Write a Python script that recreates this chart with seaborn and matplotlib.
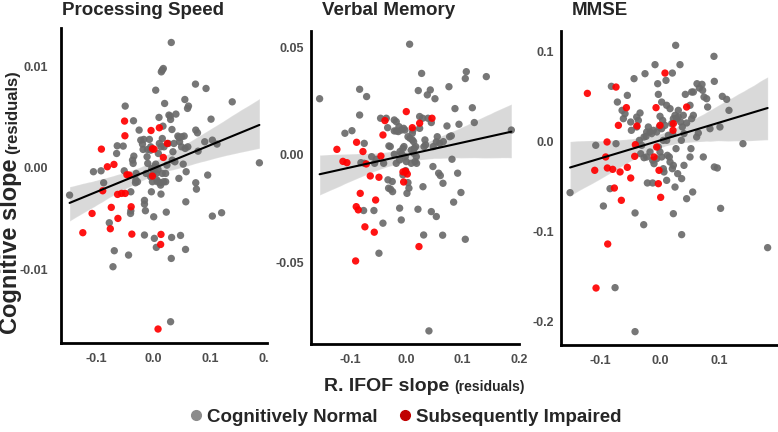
import numpy as np
import pandas as pd
import matplotlib
matplotlib.use("Agg")
import matplotlib.pyplot as plt
from matplotlib.lines import Line2D
from matplotlib.patches import Rectangle
import seaborn as sns

# ---------------- data ----------------
# Processing Speed
ps_norm_x = [-0.1475,-0.1055,-0.0921,-0.0875,-0.0776,-0.0688,-0.0711,-0.0647,-0.0636,-0.0531,-0.0496,-0.0513,-0.0350,-0.0437,-0.0397,-0.0397,-0.0402,-0.0344,-0.0367,-0.0356,-0.0315,-0.0303,-0.0309,-0.0280,-0.0222,-0.0181,-0.0169,-0.0157,-0.0157,-0.0140,-0.0157,-0.0128,-0.0111,-0.0099,-0.0105,-0.0070,-0.0047,-0.0047,-0.0047,-0.0035,-0.0017,-0.0006,0.0006,0.0017,0.0041,0.0041,0.0052,0.0064,0.0082,0.0087,0.0099,0.0105,0.0122,0.0128,0.0134,0.0140,0.0157,0.0175,0.0134,0.0157,0.0169,0.0181,0.0187,0.0198,0.0216,0.0227,0.0216,0.0239,0.0262,0.0274,0.0297,0.0303,0.0327,0.0332,0.0344,0.0362,0.0379,0.0397,0.0431,0.0449,0.0461,0.0496,0.0496,0.0542,0.0525,0.0554,0.0560,0.0577,0.0601,0.0618,0.0571,0.0606,0.0566,0.0449,0.0478,0.0303,0.0315,0.0321,0.0315,0.0741,0.0746,0.0776,0.0746,0.0758,0.0787,0.0904,0.0927,0.0956,0.1015,0.1038,0.1038,0.1120,0.1201,0.1388,0.1866,0.0070,-0.0251,-0.0192,0.0029,-0.0029,0.0157,0.0052]
ps_norm_y = [-0.00270,-0.00039,-0.00030,-0.00148,-0.00543,-0.00819,-0.00977,0.00141,0.00217,0.00214,0.00609,-0.00030,0.00464,-0.00862,-0.00237,-0.00424,-0.00451,0.00115,0.00076,0.00043,-0.00148,-0.00056,-0.00122,-0.00138,0.00273,0.00181,0.00280,-0.00322,-0.00359,-0.00424,-0.00664,-0.00056,0.00109,0.00043,0.00181,0.00280,0.00207,0.00174,-0.00089,-0.00237,-0.00138,-0.00056,-0.00484,-0.00697,0.00766,0.00036,-0.00786,-0.00122,-0.00016,0.00141,0.00497,0.00240,-0.00148,-0.00171,0.00207,0.00947,0.00964,0.00980,-0.00260,0.00289,0.00411,-0.00138,0.00207,0.00635,-0.00056,-0.00438,-0.00138,0.00026,0.00240,0.00520,0.00510,0.00477,0.00378,0.00076,0.00158,0.00240,0.00059,0.00530,0.00313,0.00299,0.00257,0.00207,0.00306,0.00313,0.00036,0.00674,0.00191,-0.00039,0.00586,0.00609,-0.00336,0.00207,-0.00806,-0.00105,-0.00668,-0.01520,-0.00895,-0.00688,0.01237,0.00826,0.00372,0.00345,-0.00148,-0.00211,0.00164,0.00257,0.00783,-0.00072,0.00480,-0.00477,0.00273,0.00234,-0.00444,0.00651,0.00049,-0.00138,0.00372,0.00234,0.00010,-0.00007,-0.00056,-0.00056]
ps_imp_x = [-0.0915,-0.0810,-0.0694,-0.0507,-0.0501,-0.0426,-0.0630,-0.0560,-0.0496,-0.0741,-0.0624,-0.0758,-0.1079,-0.1242,-0.0379,-0.0391,-0.0892,-0.0041,-0.0017,0.0012,0.0105,0.0175,0.0245,-0.0017,0.0134,0.0128,0.0082,-0.0466]
ps_imp_y = [0.00184,0.00010,0.00033,0.00461,0.00316,-0.00072,-0.00263,-0.00253,-0.00253,-0.00391,-0.00500,-0.00602,-0.00451,-0.00641,-0.00655,-0.00385,-0.00227,0.00368,0.00188,0.00184,0.00395,0.00102,0.00240,-0.00082,-0.00658,-0.00757,-0.01592,-0.00069]

# Verbal Memory
vm_norm_x = [-0.1538,-0.0828,-0.0704,-0.0828,-0.0964,-0.1089,-0.0746,-0.0805,-0.0746,-0.0757,-0.0574,-0.0414,-0.0485,-0.0456,-0.0355,-0.0331,-0.0308,-0.0284,-0.0325,-0.0314,-0.0278,-0.0243,-0.0249,-0.0213,-0.0178,-0.0213,-0.0178,-0.0142,-0.0130,-0.0089,-0.0047,-0.0024,0.0030,-0.0112,-0.0213,-0.0178,-0.0118,-0.0083,-0.0059,-0.0041,-0.0018,0.0000,0.0030,0.0012,0.0047,-0.0012,-0.0059,-0.0118,-0.0089,0.0059,0.0065,0.0089,0.0107,0.0107,0.0118,0.0130,0.0142,0.0154,0.0178,0.0183,0.0166,0.0213,0.0237,0.0237,0.0272,0.0290,0.0314,0.0331,0.0343,0.0373,0.0385,0.0426,0.0444,0.0473,0.0509,0.0533,0.0444,0.0296,0.0308,0.0207,0.0479,0.0533,0.0550,0.0574,0.0592,0.0604,0.0651,0.0657,0.0722,0.0757,0.0799,0.0811,0.0840,0.0864,0.0911,0.0935,0.0970,0.0645,0.0402,0.1047,0.1065,0.1172,0.1207,0.1420,0.1864,0.1047,0.0769,-0.0533,-0.0562,-0.0615,-0.0402,0.0089,0.0130]
vm_norm_y = [0.0262,0.0306,0.0272,0.0186,0.0113,0.0101,0.0054,-0.0036,-0.0039,-0.0259,-0.0259,-0.0318,-0.0458,0.0171,0.0171,0.0127,0.0042,0.0039,-0.0116,-0.0155,-0.0160,-0.0171,-0.0124,0.0163,0.0155,0.0112,0.0112,0.0109,0.0132,0.0116,0.0124,0.0116,0.0085,0.0016,0.0003,-0.0039,-0.0023,0.0005,0.0031,0.0039,-0.0008,-0.0031,-0.0129,-0.0179,-0.0155,-0.0073,-0.0093,-0.0248,-0.0303,0.0516,0.0078,0.0023,0.0070,0.0101,0.0116,0.0062,0.0031,-0.0031,-0.0008,-0.0039,0.0039,0.0300,0.0179,0.0124,0.0380,0.0171,0.0039,0.0070,0.0047,0.0280,0.0171,0.0303,0.0151,-0.0054,0.0262,-0.0287,-0.0264,-0.0148,-0.0373,-0.0253,0.0039,0.0061,0.0085,-0.0085,0.0054,-0.0096,-0.0132,0.0062,0.0135,0.0318,0.0089,-0.0020,-0.0220,0.0216,-0.0085,0.0143,-0.0175,-0.0374,-0.0820,0.0356,0.0388,0.0220,0.0151,0.0365,0.0116,-0.0393,0.0085,-0.0020,-0.0039,-0.0008,-0.0039,-0.0039,0.0008]
vm_imp_x = [-0.1231,-0.1124,-0.1053,-0.0882,-0.0769,-0.0710,-0.0639,-0.0485,-0.0817,-0.0888,-0.0852,-0.0734,-0.0568,-0.0899,-0.0544,-0.0450,-0.0414,-0.0379,-0.0059,-0.0012,0.0018,0.0000,0.0107,0.0237,0.0456,0.0225,-0.0047]
vm_imp_y = [0.0026,-0.0030,-0.0036,0.0059,0.0016,-0.0042,-0.0098,-0.0104,-0.0179,-0.0241,-0.0256,-0.0335,-0.0360,-0.0494,-0.0210,-0.0005,0.0093,0.0160,-0.0079,-0.0076,-0.0089,0.0202,0.0127,0.0148,0.0171,-0.0427,-0.0126]

# MMSE
mm_norm_x = [-0.1517,-0.1084,-0.0955,-0.0820,-0.0843,-0.0742,-0.0719,-0.0640,-0.0590,-0.0551,-0.0618,-0.0494,-0.0393,-0.0365,-0.0337,-0.0438,-0.0253,-0.0084,-0.0028,-0.0483,-0.0393,-0.0348,-0.0309,-0.0270,-0.0236,-0.0225,-0.0197,-0.0169,-0.0140,-0.0112,-0.0056,-0.0011,0.0028,0.0000,0.0045,0.0084,0.0112,0.0140,0.0213,0.0197,0.0225,0.0253,0.0281,0.0309,0.0348,0.0376,0.0393,0.0427,0.0506,0.0534,0.0562,0.0404,0.0270,-0.0326,-0.0270,-0.0225,-0.0169,-0.0124,-0.0101,-0.0056,-0.0028,0.0000,0.0028,0.0056,0.0067,0.0112,0.0124,0.0157,0.0169,0.0225,0.0208,0.0225,0.0253,0.0298,0.0365,0.0404,0.0449,0.0522,0.0506,0.0551,0.0365,0.0208,0.0337,0.0101,0.0264,0.0534,0.0562,0.0624,0.0663,0.0708,0.0719,0.0742,0.0787,0.0803,0.0843,0.0910,0.0916,0.0916,0.0966,0.1011,0.1051,0.1124,0.1163,0.0730,0.0618,0.0646,0.1399,0.1022,0.1815,-0.0275,-0.0421,-0.0124,-0.0213,-0.0421,-0.0758,-0.0039,0.0028,0.0112,0.0169,0.0449,0.0309,0.0360,0.0056]
mm_norm_y = [-0.0568,-0.0044,-0.0716,0.0609,-0.0524,-0.0026,0.0435,0.0343,0.0306,0.0509,0.0251,0.0214,0.0269,0.0232,0.0314,0.0694,0.0749,0.0849,0.0520,0.0122,0.0159,0.0011,-0.0044,0.0048,0.0055,0.0103,0.0159,0.0103,0.0085,0.0122,0.0103,0.0159,0.0140,0.0277,0.0232,0.0177,0.0011,0.0066,0.0085,0.0196,0.0251,0.0288,0.0251,0.0269,0.0214,0.0159,0.0288,0.0520,0.0399,0.0251,0.0288,0.0085,-0.0081,-0.0137,-0.0181,-0.0173,-0.0118,-0.0210,-0.0247,-0.0192,-0.0063,-0.0118,-0.0173,-0.0303,-0.0339,-0.0432,-0.0155,-0.0173,-0.0229,-0.0266,-0.0303,-0.0801,-0.0506,-0.0358,-0.0413,-0.0266,-0.0635,-0.0081,-0.0173,-0.0561,-0.1033,0.0756,0.0849,0.0675,0.1063,0.0546,0.0546,0.0638,0.0590,0.0631,0.0565,0.0491,0.0472,0.0380,0.0140,0.0941,0.0664,-0.0284,-0.0295,0.0159,0.0498,0.0465,0.0343,-0.0173,0.0048,0.0092,-0.0026,-0.0742,-0.1177,-0.0923,-0.0793,-0.0461,-0.0461,-0.2107,-0.1620,0.0638,0.0435,0.0399,0.0362,0.0203,0.0343,0.0011,0.0011]
mm_imp_x = [-0.1225,-0.0742,-0.0702,-0.0567,-0.0388,-0.0893,-0.0916,-0.0888,-0.0798,-0.1101,-0.0674,-0.0551,-0.0494,-0.0770,-0.0652,-0.0427,-0.0416,-0.0882,-0.1079,-0.0067,0.0084,0.0000,0.0225,0.0219,-0.0101,-0.0056,-0.0017,-0.0028,0.0011,0.0449]
mm_imp_y = [0.0531,0.0601,0.0177,0.0373,0.0170,-0.0007,-0.0173,-0.0295,-0.0310,-0.0321,-0.0339,-0.0288,-0.0406,-0.0517,-0.0653,-0.0166,-0.0037,-0.1137,-0.1624,0.0373,0.0756,0.0177,0.0196,0.0122,-0.0173,-0.0063,-0.0321,-0.0469,-0.0620,0.0380]

titles = ["Processing Speed", "Verbal Memory", "MMSE"]
groups = ["Cognitively Normal", "Subsequently Impaired"]
x_ticks = [[-0.1, 0.0, 0.1, 0.2], [-0.1, 0.0, 0.1, 0.2], [-0.1, 0.0, 0.1]]
x_ticklabels = [["-0.1", "0.0", "0.1", "0.2"], ["-0.1", "0.0", "0.1", "0.2"], ["-0.1", "0.0", "0.1"]]
y_ticks = [[-0.01, 0.0, 0.01], [-0.05, 0.0, 0.05], [-0.2, -0.1, 0.0, 0.1]]
y_ticklabels = [["-0.01", "0.00", "0.01"], ["-0.05", "0.00", "0.05"], ["-0.2", "-0.1", "0.0", "0.1"]]

panels = [
    (ps_norm_x, ps_norm_y, ps_imp_x, ps_imp_y),
    (vm_norm_x, vm_norm_y, vm_imp_x, vm_imp_y),
    (mm_norm_x, mm_norm_y, mm_imp_x, mm_imp_y),
]

# ---------------- style ----------------
sns.set_style("white")
plt.rcParams["font.family"] = ["Liberation Sans", "DejaVu Sans"]
plt.rcParams["axes.unicode_minus"] = False

W, H = 778, 432
fig = plt.figure(figsize=(W / 100, H / 100), dpi=100)

GRAY = "#6b6b6b"
RED = "#ff0000"
palette = {groups[0]: GRAY, groups[1]: RED}

# axes boxes in pixels: left, right, top, bottom
boxes = [(61, 267, 28, 343), (310.7, 519, 30.7, 344), (560.7, 778, 30.7, 345)]
xlims = [(-0.1626, 0.200), (-0.1696, 0.200), (-0.1675, 0.199)]
ylims = [(-0.0173, 0.0138), (-0.0881, 0.0579), (-0.2255, 0.1225)]
title_x = [62, 322, 572]
ypads = [9, 5, 5]

for i, (nx, ny, ix, iy) in enumerate(panels):
    l, r, t, b = boxes[i]
    ax = fig.add_axes([l / W, 1 - b / H, (r - l) / W, (b - t) / H])
    df = pd.DataFrame({
        "x": list(nx) + list(ix),
        "y": list(ny) + list(iy),
        "group": [groups[0]] * len(nx) + [groups[1]] * len(ix),
    })
    sns.scatterplot(data=df, x="x", y="y", hue="group", palette=palette,
                    hue_order=groups, s=28, linewidth=0, alpha=0.92,
                    legend=False, ax=ax, zorder=2)
    sns.regplot(data=df, x="x", y="y", scatter=False, color="black", ci=95,
                n_boot=1000, seed=3, line_kws={"linewidth": 1.5, "zorder": 4},
                ax=ax)
    ax.set_xlim(*xlims[i])
    ax.set_ylim(*ylims[i])
    ax.set_xticks(x_ticks[i])
    ax.set_xticklabels(x_ticklabels[i])
    ax.set_yticks(y_ticks[i])
    ax.set_yticklabels(y_ticklabels[i])
    ax.set_xlabel("")
    ax.set_ylabel("")
    for side in ["top", "right"]:
        ax.spines[side].set_visible(False)
    for side in ["left", "bottom"]:
        ax.spines[side].set_linewidth(2.0)
        ax.spines[side].set_color("black")
    ax.tick_params(axis="both", length=0, labelsize=9, labelcolor="#4d4d4d")
    ax.tick_params(axis="x", pad=7)
    ax.tick_params(axis="y", pad=ypads[i])
    for lab in ax.get_xticklabels() + ax.get_yticklabels():
        lab.set_fontweight("bold")
    ax.patch.set_alpha(0)
    fig.text(title_x[i] / W, 1 - 15 / H, titles[i], fontsize=13.5,
             fontweight="bold", ha="left", va="baseline")

# the reference's first panel is cropped just after "0." of its last tick label
fig.patches.append(Rectangle((269 / W, 1 - 370 / H), 14 / W, 22 / H,
                             transform=fig.transFigure, facecolor="white",
                             edgecolor="none", zorder=10))

# y label (two sizes)
ty1 = fig.text(17.5 / W, 1 - 334 / H, "Cognitive slope", rotation=90,
               rotation_mode="anchor", ha="left", va="baseline",
               fontsize=17, fontweight="bold")
fig.canvas.draw()
bb = ty1.get_window_extent()
fig.text(17.5 / W, (bb.y1 + 5) / H, "(residuals)", rotation=90,
         rotation_mode="anchor", ha="left", va="baseline",
         fontsize=12, fontweight="bold")

# x label (two sizes), centred
tx1 = fig.text(0, 1 - 391 / H, "R. IFOF slope", ha="left", va="baseline",
               fontsize=14, fontweight="bold")
tx2 = fig.text(0, 1 - 391 / H, "(residuals)", ha="left", va="baseline",
               fontsize=10, fontweight="bold")
fig.canvas.draw()
w1 = tx1.get_window_extent().width
w2 = tx2.get_window_extent().width
gap = 5
x0 = 424 - (w1 + gap + w2) / 2
tx1.set_x(x0 / W)
tx2.set_x((x0 + w1 + gap) / W)

# legend
handles = [Line2D([], [], marker="o", ls="", color="#8c8c8c", markersize=7),
           Line2D([], [], marker="o", ls="", color="#c00000", markersize=7)]
fig.legend(handles, groups, loc="center", bbox_to_anchor=(404 / W, 1 - 417 / H),
           ncol=2, frameon=False, handletextpad=0.05, columnspacing=1.0,
           handlelength=1.0, prop={"weight": "bold", "size": 13.5})

fig.savefig("out.png", dpi=100)
